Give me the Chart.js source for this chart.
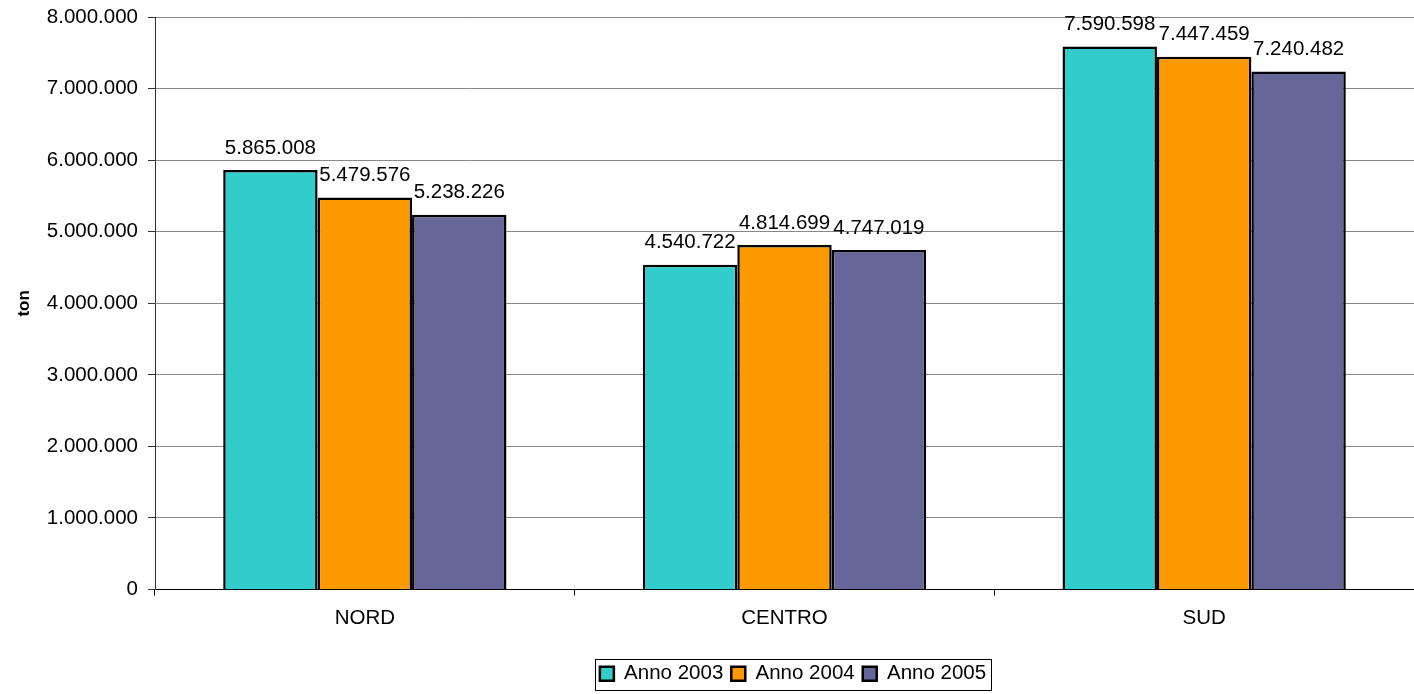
<!DOCTYPE html>
<html>
<head>
<meta charset="utf-8">
<script src="https://cdn.jsdelivr.net/npm/chart.js@4/dist/chart.umd.min.js"></script>
<style>
  html, body { margin: 0; padding: 0; background: #fff; }
  #wrap { width: 1414px; height: 694px; }
</style>
</head>
<body>
<div id="wrap"><canvas id="chart"></canvas></div>
<script>
const regions = ['NORD', 'CENTRO', 'SUD']
const anno2003 = [5865008, 4540722, 7590598]
const anno2004 = [5479576, 4814699, 7447459]
const anno2005 = [5238226, 4747019, 7240482]
const seriesNames = ['Anno 2003', 'Anno 2004', 'Anno 2005']
const seriesColors = ['#33CCCC', '#FF9900', '#666699']

// 1234567 -> 1.234.567
function fmt(v) {
  return String(Math.round(v)).replace(/\B(?=(\d{3})+(?!\d))/g, '.')
}

const FONT = 'Arial, "Liberation Sans", sans-serif'
const SIZE = 20.5
const LEGEND_SHIFT = 86

// value labels above each bar
const barLabels = {
  id: 'barLabels',
  afterDatasetsDraw(chart) {
    const ctx = chart.ctx
    ctx.save()
    ctx.font = SIZE + 'px ' + FONT
    ctx.fillStyle = '#000'
    ctx.textAlign = 'center'
    ctx.textBaseline = 'middle'
    chart.data.datasets.forEach((ds, i) => {
      chart.getDatasetMeta(i).data.forEach((bar, j) => {
        ctx.fillText(fmt(ds.data[j]), bar.x, bar.y - 22)
      })
    })
    ctx.restore()
  }
}

// legend sits a little right of the middle, under the plot
const legendShift = {
  id: 'legendShift',
  afterLayout(chart) {
    const lg = chart.legend
    lg.left += LEGEND_SHIFT
    lg.right += LEGEND_SHIFT
    lg.legendHitBoxes.forEach(b => { b.left += LEGEND_SHIFT })
  }
}

// frame round the legend
const legendFrame = {
  id: 'legendFrame',
  afterDraw(chart) {
    const boxes = chart.legend.legendHitBoxes
    if (!boxes.length) return
    const left = Math.min(...boxes.map(b => b.left)) - 5
    const right = Math.max(...boxes.map(b => b.left + b.width)) + 5
    const top = Math.min(...boxes.map(b => b.top)) - 5
    const bottom = Math.max(...boxes.map(b => b.top + b.height)) + 5
    const ctx = chart.ctx
    ctx.save()
    ctx.strokeStyle = '#000'
    ctx.lineWidth = 1
    ctx.strokeRect(Math.round(left) + 0.5, Math.round(top) + 0.5, Math.round(right - left), Math.round(bottom - top))
    ctx.restore()
  }
}

new Chart(document.getElementById('chart'), {
  type: 'bar',
  data: {
    labels: regions,
    datasets: [anno2003, anno2004, anno2005].map((d, i) => ({
      label: seriesNames[i],
      data: d,
      backgroundColor: seriesColors[i],
      borderColor: '#000',
      borderWidth: 2.5,
      categoryPercentage: 0.675,
      barPercentage: 1
    }))
  },
  options: {
    responsive: true,
    maintainAspectRatio: false,
    animation: false,
    layout: { padding: { top: 10, right: 0, bottom: 0, left: 0 } },
    plugins: {
      tooltip: { enabled: false },
      legend: {
        position: 'bottom',
        labels: {
          color: '#000',
          font: { family: FONT, size: SIZE },
          boxWidth: 14,
          boxHeight: 14,
          padding: 8,
          useBorderRadius: false
        }
      }
    },
    scales: {
      x: {
        grid: {
          offset: true,
          drawOnChartArea: false,
          drawTicks: true,
          tickLength: 6,
          color: '#000'
        },
        border: { color: '#000', width: 1 },
        ticks: {
          color: '#000',
          font: { family: FONT, size: SIZE },
          padding: 11
        },
        afterFit(scale) { scale.height = 66 }
      },
      y: {
        min: 0,
        max: 8000000,
        ticks: {
          stepSize: 1000000,
          color: '#000',
          font: { family: FONT, size: SIZE, lineHeight: 0.7 },
          padding: 10,
          callback: v => fmt(v)
        },
        grid: {
          color: '#888',
          lineWidth: 1,
          tickLength: 7,
          tickColor: '#333'
        },
        border: { color: '#333', width: 1 },
        title: {
          display: true,
          text: 'ton',
          color: '#000',
          padding: { top: 14, bottom: 0 },
          font: { family: FONT, size: 17, weight: 'bold' }
        },
        afterFit(scale) { scale.width = 155 }
      }
    }
  },
  plugins: [barLabels, legendShift, legendFrame]
})
</script>
</body>
</html>
